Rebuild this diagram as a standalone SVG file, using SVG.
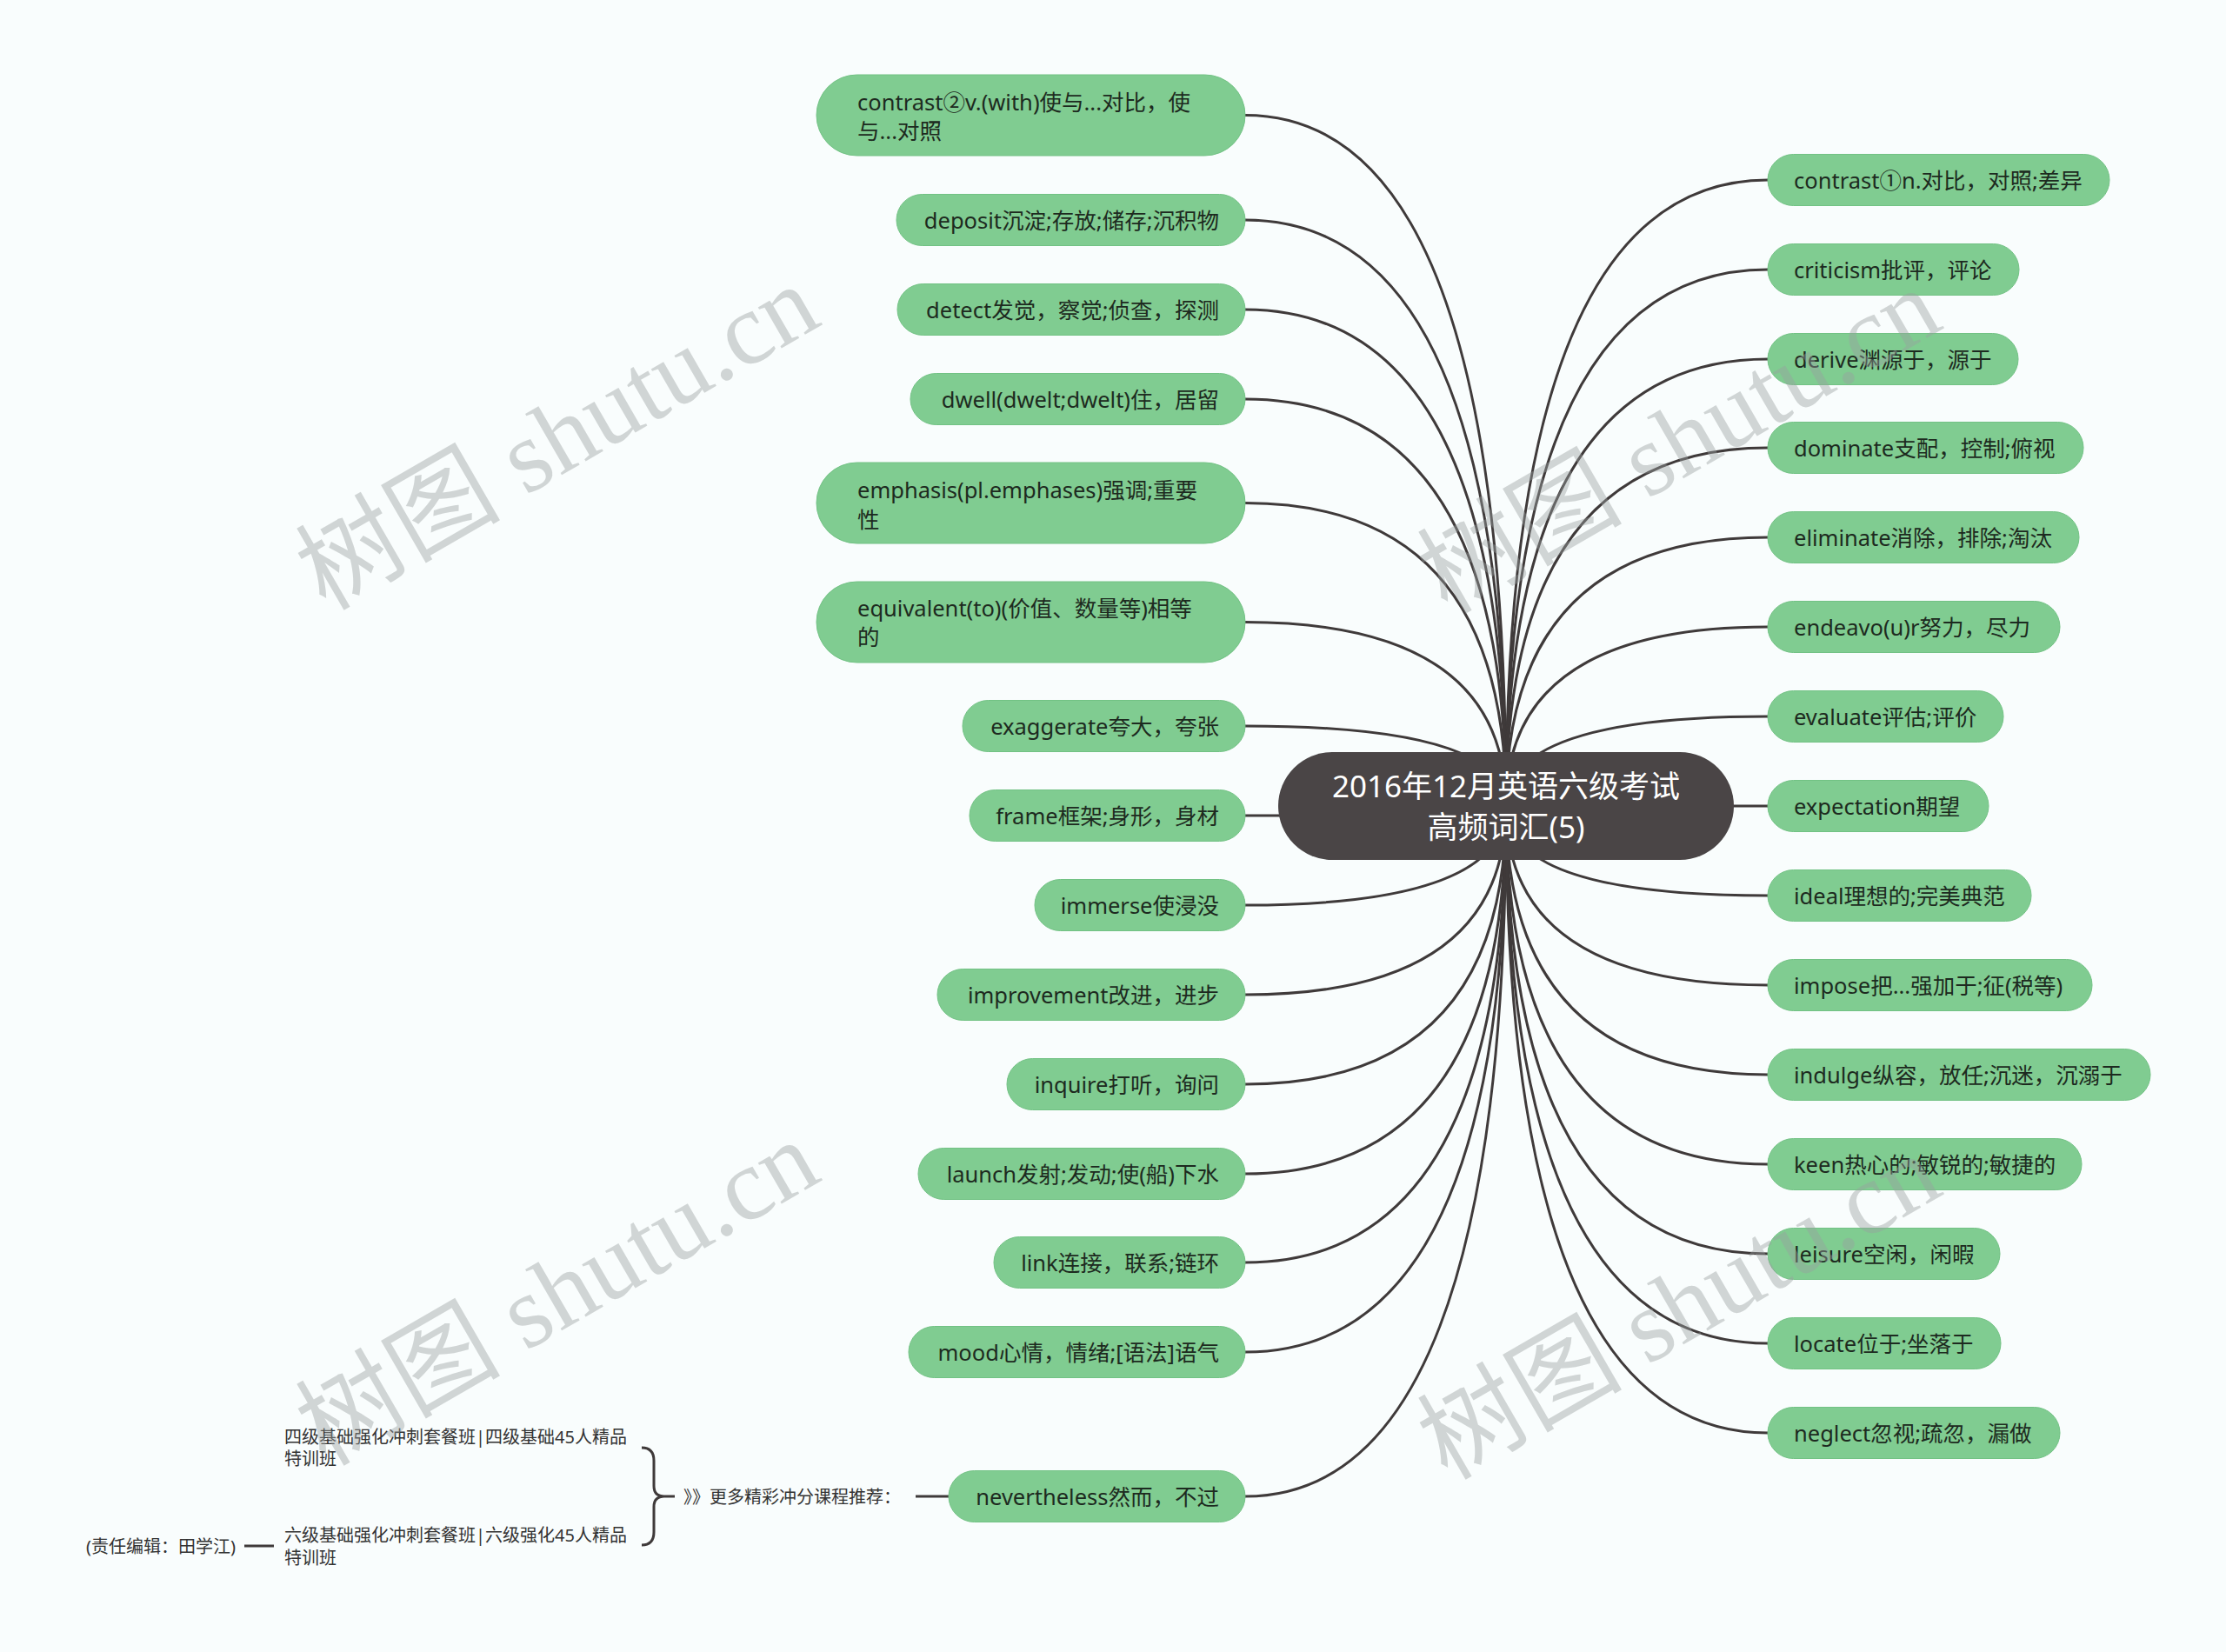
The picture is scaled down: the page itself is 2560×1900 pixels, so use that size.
<svg xmlns="http://www.w3.org/2000/svg" width="2560" height="1900" viewBox="0 0 2560 1900">
<style>
.bg{fill:#f9fdfd}
.conn path{fill:none;stroke:#3f3a3a;stroke-width:3}
.node rect{fill:#80cc91;stroke:#72c284;stroke-width:1}
.t{font-family:"Noto Sans","Noto Sans CJK SC",sans-serif;font-size:25.5px;fill:#1d2a20;dominant-baseline:central}
.root rect{fill:#4a4546}
.rt{font-family:"Noto Sans","Noto Sans CJK SC",sans-serif;font-size:35px;fill:#ffffff;dominant-baseline:central;text-anchor:middle}
.s{font-family:"Noto Sans","Noto Sans CJK SC",sans-serif;font-size:20px;fill:#333333;dominant-baseline:central}
.e{text-anchor:end}
.wm{font-family:"Liberation Serif","Noto Sans CJK SC",serif;font-size:118px;fill:#9aa0a0;opacity:0.42;text-anchor:middle}
.br{fill:none;stroke:#3f3a3a;stroke-width:3}
</style>
<rect class="bg" x="0" y="0" width="2560" height="1900"/>

<g class="conn" id="connectors">
<path d="M1432,132.5 Q1732,132.5 1732,927"/>
<path d="M1432,253 Q1732,253 1732,927"/>
<path d="M1432,356 Q1732,356 1732,927"/>
<path d="M1432,459 Q1732,459 1732,927"/>
<path d="M1432,578.5 Q1732,578.5 1732,927"/>
<path d="M1432,715.5 Q1732,715.5 1732,927"/>
<path d="M1432,835 Q1732,835 1732,927"/>
<path d="M1432,938 Q1732,938 1732,927"/>
<path d="M1432,1041 Q1732,1041 1732,927"/>
<path d="M1432,1144 Q1732,1144 1732,927"/>
<path d="M1432,1247 Q1732,1247 1732,927"/>
<path d="M1432,1350 Q1732,1350 1732,927"/>
<path d="M1432,1452 Q1732,1452 1732,927"/>
<path d="M1432,1555 Q1732,1555 1732,927"/>
<path d="M1432,1721 Q1732,1721 1732,927"/>
<path d="M2033,207 Q1732,207 1732,927"/>
<path d="M2033,310 Q1732,310 1732,927"/>
<path d="M2033,413 Q1732,413 1732,927"/>
<path d="M2033,515 Q1732,515 1732,927"/>
<path d="M2033,618 Q1732,618 1732,927"/>
<path d="M2033,721 Q1732,721 1732,927"/>
<path d="M2033,824 Q1732,824 1732,927"/>
<path d="M2033,927 L1732,927"/>
<path d="M2033,1030 Q1732,1030 1732,927"/>
<path d="M2033,1133 Q1732,1133 1732,927"/>
<path d="M2033,1236 Q1732,1236 1732,927"/>
<path d="M2033,1339 Q1732,1339 1732,927"/>
<path d="M2033,1442 Q1732,1442 1732,927"/>
<path d="M2033,1545 Q1732,1545 1732,927"/>
<path d="M2033,1648 Q1732,1648 1732,927"/>
<path d="M1091,1721 L1053,1721"/>
<path d="M281,1778 L315,1778"/>
<path class="br" d="M738,1665 Q752,1665 752,1680 L752,1709 Q752,1721 764,1721 Q752,1721 752,1733 L752,1762 Q752,1777 738,1777"/>
<path d="M764,1721 L776,1721"/>
</g>

<g class="root" id="root">
<rect x="1470" y="865" width="524" height="124" rx="62"/>
<text class="rt" x="1732" y="903">2016年12月英语六级考试</text>
<text class="rt" x="1732" y="950">高频词汇(5)</text>
</g>

<g class="node" id="n-contrast2"><rect x="939" y="86" width="493" height="93" rx="46.5"/><text class="t" x="986" y="117">contrast②v.(with)使与...对比，使</text><text class="t" x="986" y="150">与...对照</text></g>
<g class="node" id="n-deposit"><rect x="1031" y="223.5" width="401" height="59" rx="29.5"/><text class="t e" x="1402" y="253">deposit沉淀;存放;储存;沉积物</text></g>
<g class="node" id="n-detect"><rect x="1032" y="326.5" width="400" height="59" rx="29.5"/><text class="t e" x="1402" y="356">detect发觉，察觉;侦查，探测</text></g>
<g class="node" id="n-dwell"><rect x="1047" y="429.5" width="385" height="59" rx="29.5"/><text class="t e" x="1402" y="459">dwell(dwelt;dwelt)住，居留</text></g>
<g class="node" id="n-emphasis"><rect x="939" y="532" width="493" height="93" rx="46.5"/><text class="t" x="986" y="563">emphasis(pl.emphases)强调;重要</text><text class="t" x="986" y="597">性</text></g>
<g class="node" id="n-equivalent"><rect x="939" y="669" width="493" height="93" rx="46.5"/><text class="t" x="986" y="699">equivalent(to)(价值、数量等)相等</text><text class="t" x="986" y="732">的</text></g>
<g class="node" id="n-exaggerate"><rect x="1107" y="805.5" width="325" height="59" rx="29.5"/><text class="t e" x="1402" y="835">exaggerate夸大，夸张</text></g>
<g class="node" id="n-frame"><rect x="1115" y="908.5" width="317" height="59" rx="29.5"/><text class="t e" x="1402" y="938">frame框架;身形，身材</text></g>
<g class="node" id="n-immerse"><rect x="1190" y="1011.5" width="242" height="59" rx="29.5"/><text class="t e" x="1402" y="1041">immerse使浸没</text></g>
<g class="node" id="n-improvement"><rect x="1078" y="1114.5" width="354" height="59" rx="29.5"/><text class="t e" x="1402" y="1144">improvement改进，进步</text></g>
<g class="node" id="n-inquire"><rect x="1158" y="1217.5" width="274" height="59" rx="29.5"/><text class="t e" x="1402" y="1247">inquire打听，询问</text></g>
<g class="node" id="n-launch"><rect x="1056" y="1320.5" width="376" height="59" rx="29.5"/><text class="t e" x="1402" y="1350">launch发射;发动;使(船)下水</text></g>
<g class="node" id="n-link"><rect x="1143" y="1422.5" width="289" height="59" rx="29.5"/><text class="t e" x="1402" y="1452">link连接，联系;链环</text></g>
<g class="node" id="n-mood"><rect x="1045" y="1525.5" width="387" height="59" rx="29.5"/><text class="t e" x="1402" y="1555">mood心情，情绪;[语法]语气</text></g>
<g class="node" id="n-nevertheless"><rect x="1091" y="1691.5" width="341" height="59" rx="29.5"/><text class="t e" x="1402" y="1721">nevertheless然而，不过</text></g>

<g id="n-more"><text class="s" x="786" y="1721">》》更多精彩冲分课程推荐：</text></g>
<g id="n-cet4"><text class="s" x="327" y="1652">四级基础强化冲刺套餐班|四级基础45人精品</text><text class="s" x="327" y="1677">特训班</text></g>
<g id="n-cet6"><text class="s" x="327" y="1765">六级基础强化冲刺套餐班|六级强化45人精品</text><text class="s" x="327" y="1791">特训班</text></g>
<g id="n-editor"><text class="s" x="99" y="1778">(责任编辑：田学江)</text></g>

<g class="node" id="n-contrast1"><rect x="2033" y="177.5" width="393" height="59" rx="29.5"/><text class="t" x="2063" y="207">contrast①n.对比，对照;差异</text></g>
<g class="node" id="n-criticism"><rect x="2033" y="280.5" width="289" height="59" rx="29.5"/><text class="t" x="2063" y="310">criticism批评，评论</text></g>
<g class="node" id="n-derive"><rect x="2033" y="383.5" width="288" height="59" rx="29.5"/><text class="t" x="2063" y="413">derive渊源于，源于</text></g>
<g class="node" id="n-dominate"><rect x="2033" y="485.5" width="363" height="59" rx="29.5"/><text class="t" x="2063" y="515">dominate支配，控制;俯视</text></g>
<g class="node" id="n-eliminate"><rect x="2033" y="588.5" width="358" height="59" rx="29.5"/><text class="t" x="2063" y="618">eliminate消除，排除;淘汰</text></g>
<g class="node" id="n-endeavour"><rect x="2033" y="691.5" width="336" height="59" rx="29.5"/><text class="t" x="2063" y="721">endeavo(u)r努力，尽力</text></g>
<g class="node" id="n-evaluate"><rect x="2033" y="794.5" width="271" height="59" rx="29.5"/><text class="t" x="2063" y="824">evaluate评估;评价</text></g>
<g class="node" id="n-expectation"><rect x="2033" y="897.5" width="254" height="59" rx="29.5"/><text class="t" x="2063" y="927">expectation期望</text></g>
<g class="node" id="n-ideal"><rect x="2033" y="1000.5" width="303" height="59" rx="29.5"/><text class="t" x="2063" y="1030">ideal理想的;完美典范</text></g>
<g class="node" id="n-impose"><rect x="2033" y="1103.5" width="373" height="59" rx="29.5"/><text class="t" x="2063" y="1133">impose把...强加于;征(税等)</text></g>
<g class="node" id="n-indulge"><rect x="2033" y="1206.5" width="440" height="59" rx="29.5"/><text class="t" x="2063" y="1236">indulge纵容，放任;沉迷，沉溺于</text></g>
<g class="node" id="n-keen"><rect x="2033" y="1309.5" width="361" height="59" rx="29.5"/><text class="t" x="2063" y="1339">keen热心的;敏锐的;敏捷的</text></g>
<g class="node" id="n-leisure"><rect x="2033" y="1412.5" width="267" height="59" rx="29.5"/><text class="t" x="2063" y="1442">leisure空闲，闲暇</text></g>
<g class="node" id="n-locate"><rect x="2033" y="1515.5" width="268" height="59" rx="29.5"/><text class="t" x="2063" y="1545">locate位于;坐落于</text></g>
<g class="node" id="n-neglect"><rect x="2033" y="1618.5" width="336" height="59" rx="29.5"/><text class="t" x="2063" y="1648">neglect忽视;疏忽，漏做</text></g>

<g id="watermarks">
<text class="wm" x="645" y="542" transform="rotate(-30 645 510)">树图 shutu.cn</text>
<text class="wm" x="645" y="1526" transform="rotate(-30 645 1494)">树图 shutu.cn</text>
<text class="wm" x="1935" y="546" transform="rotate(-30 1935 514)">树图 shutu.cn</text>
<text class="wm" x="1935" y="1542" transform="rotate(-30 1935 1510)">树图 shutu.cn</text>
</g>
</svg>
